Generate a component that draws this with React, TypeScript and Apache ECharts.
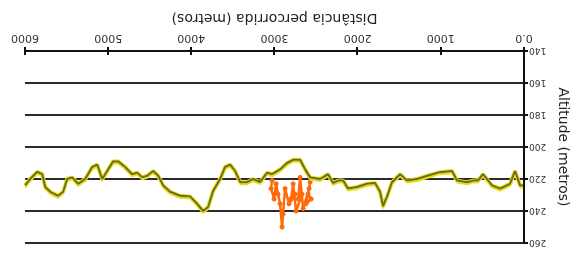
import React, { useEffect, useRef } from "react";
import * as echarts from "echarts";

// Distance travelled (m) and altitude (m) of the main profile
const distance = [12, 48, 108, 168, 288, 385, 493, 553, 613, 685, 805, 865, 1034, 1130, 1286, 1406, 1490, 1587, 1647, 1695, 1731, 1791, 1887, 2007, 2115, 2175, 2236, 2296, 2356, 2452, 2572, 2632, 2692, 2776, 2849, 2933, 3029, 3089, 3173, 3257, 3329, 3413, 3474, 3534, 3594, 3654, 3738, 3798, 3858, 3930, 4014, 4135, 4255, 4339, 4399, 4459, 4531, 4591, 4651, 4712, 4796, 4880, 4940, 5012, 5072, 5132, 5192, 5276, 5361, 5433, 5493, 5541, 5601, 5697, 5757, 5793, 5853, 5938, 5998];
const altitude = [224, 224, 215, 223, 226, 224, 217, 221, 221, 222, 221, 215, 216, 217.5, 220, 221, 217, 222, 231, 237, 228, 222.5, 223, 225, 226, 221, 221, 222.5, 217, 220, 219, 214, 208, 208, 210, 214, 217, 216, 222, 220, 222, 222, 215, 211, 212.5, 220, 227.5, 237.5, 240, 235.5, 231, 230.5, 228, 224, 218, 215, 218, 219, 216, 217, 212.5, 209, 209, 215, 220, 211, 212.5, 220, 223, 219, 220, 228, 230.5, 228, 225, 217, 215.5, 220, 224];

// Secondary (orange) noisy readings
const gpsDistance = [2572, 2596, 2560, 2620, 2584, 2656, 2692, 2716, 2668, 2741, 2776, 2800, 2752, 2825, 2873, 2897, 2909, 2933, 2957, 2981, 3005, 3041, 3029];
const gpsAltitude = [222, 229.5, 232.5, 235.5, 226, 238.5, 219, 232.5, 229.5, 240, 223, 232.5, 229.5, 235.5, 226, 242, 250, 235.5, 229.5, 223, 232.5, 226, 221];

const xTicks = [0, 1000, 2000, 3000, 4000, 5000, 6000];
const yTicks = [140, 160, 180, 200, 220, 240, 260];

export default function App() {
  const ref = useRef<HTMLDivElement>(null);
  useEffect(() => {
    if (!ref.current) return;
    const chart = echarts.init(ref.current, null, { renderer: "svg" });
    const font = "DejaVu Sans, sans-serif";
    chart.setOption({
      animation: false,
      grid: { left: 56, right: 25, top: 17, bottom: 51 },
      xAxis: [
        {
          type: "value",
          min: xTicks[0],
          max: xTicks[xTicks.length - 1],
          interval: 1000,
          name: "Distância percorrida (metros)",
          nameLocation: "middle",
          nameGap: 25,
          nameTextStyle: { fontFamily: font, fontSize: 14, color: "#222" },
          axisLine: { show: true, onZero: false, lineStyle: { color: "#111", width: 2 } },
          axisTick: { show: true, length: 4, lineStyle: { color: "#111", width: 2 } },
          axisLabel: {
            fontFamily: font,
            fontSize: 11,
            color: "#333",
            margin: 7,
            formatter: (v: number) => (v === 0 ? "0.0" : String(v)),
          },
          splitLine: { show: false },
        },
        {
          type: "value",
          position: "bottom",
          min: xTicks[0],
          max: xTicks[xTicks.length - 1],
          interval: 1000,
          axisLine: { show: false, onZero: false },
          axisTick: { show: true, inside: true, length: 4, lineStyle: { color: "#111", width: 2 } },
          axisLabel: { show: false },
          splitLine: { show: false },
        },
      ],
      yAxis: {
        type: "value",
        min: yTicks[0],
        max: yTicks[yTicks.length - 1],
        interval: 20,
        name: "Altitude (metros)",
        nameLocation: "middle",
        nameGap: 33,
        nameTextStyle: { fontFamily: font, fontSize: 14, color: "#222" },
        axisLine: { show: true, lineStyle: { color: "#111", width: 2 } },
        axisTick: { show: true, length: 4, lineStyle: { color: "#111", width: 2 } },
        axisLabel: { fontFamily: font, fontSize: 9, color: "#333", margin: 5 },
        splitLine: { show: true, lineStyle: { color: "#2a2a2a", width: 2 } },
      },
      series: [
        {
          type: "line",
          data: gpsDistance.map((d, i) => [d, gpsAltitude[i]]),
          symbol: "circle",
          symbolSize: 5,
          itemStyle: { color: "#ff6a0a" },
          lineStyle: { color: "#ff6a0a", width: 2.5 },
          z: 2,
        },
        {
          type: "line",
          data: distance.map((d, i) => [d, altitude[i]]),
          showSymbol: false,
          symbol: "none",
          lineStyle: { color: "#e4df1c", width: 4 },
          z: 3,
        },
        {
          type: "line",
          data: distance.map((d, i) => [d, altitude[i]]),
          showSymbol: false,
          symbol: "none",
          lineStyle: { color: "#6e6b24", width: 2, shadowColor: "#e4df1c", shadowBlur: 0, shadowOffsetY: -2 },
          z: 4,
        },
      ],
    });
    return () => chart.dispose();
  }, []);
  return (
    <div
      style={{
        position: "fixed",
        left: 0,
        top: 0,
        width: 580,
        height: 260,
        background: "#fff",
        transform: "rotate(180deg)",
      }}
    >
      <div ref={ref} style={{ width: 580, height: 260 }} />
    </div>
  );
}
